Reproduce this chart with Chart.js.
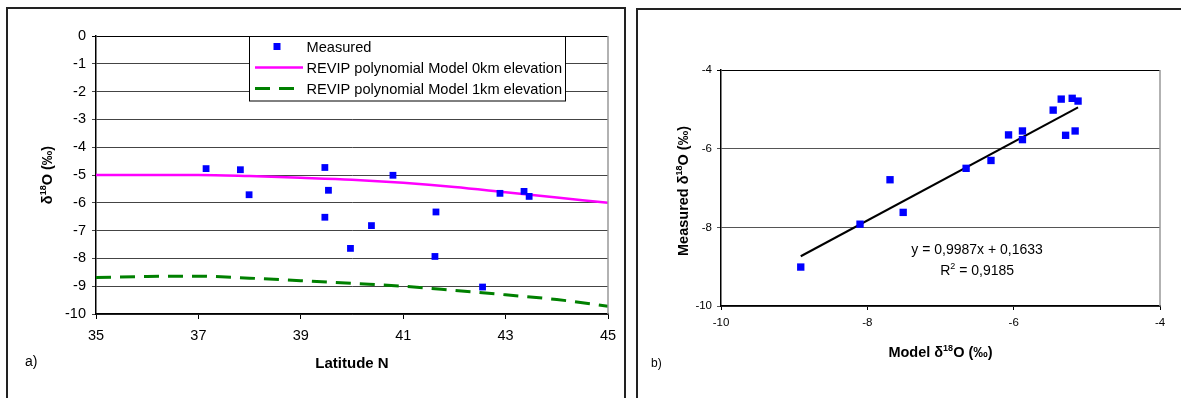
<!DOCTYPE html>
<html>
<head>
<meta charset="utf-8">
<script src="https://cdn.jsdelivr.net/npm/chart.js@4.4.1/dist/chart.umd.min.js"></script>
<style>
html, body { margin: 0; padding: 0; background: #fff; }
#wrap { position: relative; width: 1181px; height: 398px; overflow: hidden; }
canvas { position: absolute; top: 0; }
#left { left: 0; }
#right { left: 630px; }
</style>
</head>
<body>
<div id="wrap">
  <canvas id="left" width="630" height="398"></canvas>
  <canvas id="right" width="551" height="398"></canvas>
</div>
<script>
// panel a) - measured values against latitude
const latitude = [37.15, 37.82, 37.99, 39.47, 39.54, 40.80, 42.89, 43.36, 43.46, 39.47, 40.38, 39.97, 41.64, 41.62, 42.55];
const measuredA = [-4.77, -4.81, -5.71, -4.73, -5.55, -5.01, -5.66, -5.59, -5.77, -6.52, -6.82, -7.64, -6.33, -7.93, -9.03];

// REVIP polynomial model curves
const modelLat = [35, 36, 37, 38, 39, 40, 41, 42, 43, 44, 45];
const model0km = [-5.00, -5.00, -5.00, -5.04, -5.10, -5.17, -5.28, -5.43, -5.62, -5.81, -6.00];
const model1km = [-8.69, -8.65, -8.64, -8.71, -8.80, -8.90, -9.00, -9.15, -9.31, -9.48, -9.72];

const latTicks = [35, 37, 39, 41, 43, 45];
const deltaTicksA = [0, -1, -2, -3, -4, -5, -6, -7, -8, -9, -10];

// panel b) - measured against model
const modelB = [-5.35, -5.20, -5.12, -5.46, -6.07, -5.88, -5.88, -5.29, -5.16, -6.31, -6.65, -7.69, -8.10, -7.51, -8.91];
const measuredB = [-4.74, -4.72, -4.79, -5.02, -5.65, -5.55, -5.77, -5.66, -5.55, -6.30, -6.50, -6.79, -7.92, -7.62, -9.01];
const fitSlope = 0.9987;
const fitIntercept = 0.1633;
const fitR2 = 0.9185;

const ticksB = [-10, -8, -6, -4];

const FONT = '"Liberation Sans", Arial, sans-serif';
Chart.defaults.font.family = FONT;
Chart.defaults.color = '#000';

function fixedTicks(list) {
  return s => { s.ticks = list.map(v => ({ value: v })); };
}

function comma(v) {
  return v.toFixed(4).replace('.', ',');
}

// "prefix δ18O (‰)" with a raised 18
function deltaTitle(ctx, prefix, cx, cy, size, rotate) {
  const big = 'bold ' + size + 'px ' + FONT;
  const small = 'bold ' + (size * 0.62).toFixed(1) + 'px ' + FONT;
  const parts = [[prefix + 'δ', big, 0], ['18', small, -size * 0.42], ['O (‰)', big, 0]];
  let w = 0;
  parts.forEach(p => { ctx.font = p[1]; p.push(ctx.measureText(p[0]).width); w += p[3]; });
  ctx.save();
  ctx.translate(cx, cy);
  if (rotate) ctx.rotate(-Math.PI / 2);
  ctx.fillStyle = '#000';
  ctx.textBaseline = 'alphabetic';
  ctx.textAlign = 'left';
  let x = -w / 2;
  parts.forEach(p => {
    ctx.font = p[1];
    ctx.fillText(p[0], x, size * 0.36 + p[2]);
    x += p[3];
  });
  ctx.restore();
}

const deco = {
  id: 'deco',
  afterDraw(chart, args, opts) {
    const ctx = chart.ctx;
    const a = chart.chartArea;
    ctx.save();
    // frame of the panel
    ctx.strokeStyle = '#222';
    ctx.lineWidth = 2;
    ctx.strokeRect(opts.frame[0], opts.frame[1], opts.frame[2], opts.frame[3]);
    // right side of plot area
    ctx.strokeStyle = '#999';
    ctx.lineWidth = 1.5;
    ctx.beginPath();
    ctx.moveTo(a.right, a.top);
    ctx.lineTo(a.right, a.bottom);
    ctx.stroke();
    // panel letter
    ctx.fillStyle = '#000';
    ctx.font = opts.tagSize + 'px ' + FONT;
    ctx.textAlign = 'left';
    ctx.fillText(opts.tag, opts.tagPos[0], opts.tagPos[1]);
    ctx.restore();

    if (opts.xTitle) {
      ctx.save();
      ctx.font = 'bold 15px ' + FONT;
      ctx.textAlign = 'center';
      ctx.fillStyle = '#000';
      ctx.fillText(opts.xTitle, (a.left + a.right) / 2, 368);
      ctx.restore();
    } else {
      deltaTitle(ctx, 'Model ', (a.left + a.right) / 2, 352, 14.5, false);
    }
    deltaTitle(ctx, opts.yPrefix, opts.yTitleX, (a.top + a.bottom) / 2 + opts.yShift, opts.yTitleSize, true);

    if (opts.legend) {
      const ds = chart.data.datasets;
      const lx = 249.5, ly = 36.5, lw = 316, lh = 64.5;
      ctx.save();
      ctx.fillStyle = '#fff';
      ctx.fillRect(lx, ly, lw, lh);
      ctx.strokeStyle = '#000';
      ctx.lineWidth = 1;
      ctx.strokeRect(lx, ly, lw, lh);
      const rows = [46.5, 67.5, 88.5];
      ds.forEach((d, i) => {
        const y = rows[i];
        if (d.showLine) {
          ctx.strokeStyle = d.borderColor;
          ctx.lineWidth = d.borderWidth;
          ctx.setLineDash(d.borderDash || []);
          ctx.beginPath();
          ctx.moveTo(255, y);
          ctx.lineTo(d.borderDash ? 297 : 303, y);
          ctx.stroke();
          ctx.setLineDash([]);
        } else {
          ctx.fillStyle = d.backgroundColor;
          ctx.fillRect(273.5, y - 3.5, 7, 7);
        }
        ctx.fillStyle = '#000';
        ctx.font = '14.6px ' + FONT;
        ctx.textAlign = 'left';
        ctx.fillText(d.label, 306.5, y + 5.2);
      });
      ctx.restore();
    }

    if (opts.equation) {
      const sx = chart.scales.x, sy = chart.scales.y;
      const cx = sx.getPixelForValue(-6.5);
      ctx.save();
      ctx.fillStyle = '#000';
      ctx.font = '14px ' + FONT;
      ctx.textAlign = 'center';
      ctx.fillText('y = ' + comma(fitSlope) + 'x + ' + comma(fitIntercept), cx, sy.getPixelForValue(-8.55) + 5);
      // R² line with raised 2
      const r1 = 'R', r3 = ' = ' + comma(fitR2);
      const w1 = ctx.measureText(r1).width, w3 = ctx.measureText(r3).width;
      ctx.font = '9px ' + FONT;
      const w2 = ctx.measureText('2').width;
      let x = cx - (w1 + w2 + w3) / 2;
      const by = sy.getPixelForValue(-9.09) + 5;
      ctx.textAlign = 'left';
      ctx.font = '14px ' + FONT;
      ctx.fillText(r1, x, by); x += w1;
      ctx.font = '9px ' + FONT;
      ctx.fillText('2', x, by - 6); x += w2;
      ctx.font = '14px ' + FONT;
      ctx.fillText(r3, x, by);
      ctx.restore();
    }
  }
};

new Chart(document.getElementById('left'), {
  type: 'scatter',
  data: {
    datasets: [
      {
        label: 'Measured',
        data: latitude.map((x, i) => ({ x: x, y: measuredA[i] })),
        pointStyle: 'rect',
        pointRadius: 4.8,
        backgroundColor: '#0000ff',
        borderWidth: 0,
        order: 0
      },
      {
        label: 'REVIP polynomial Model 0km elevation',
        data: modelLat.map((x, i) => ({ x: x, y: model0km[i] })),
        showLine: true,
        borderColor: '#ff00ff',
        borderWidth: 2.5,
        pointRadius: 0,
        cubicInterpolationMode: 'monotone',
        order: 1
      },
      {
        label: 'REVIP polynomial Model 1km elevation',
        data: modelLat.map((x, i) => ({ x: x, y: model1km[i] })),
        showLine: true,
        borderColor: '#008000',
        borderWidth: 3,
        borderDash: [15, 9],
        pointRadius: 0,
        cubicInterpolationMode: 'monotone',
        order: 2
      }
    ]
  },
  options: {
    responsive: false,
    animation: false,
    devicePixelRatio: 1,
    layout: { autoPadding: false, padding: { left: 0, right: 22, top: 36, bottom: 54 } },
    plugins: {
      legend: { display: false },
      tooltip: { enabled: false },
      deco: {
        frame: [7, 8, 618, 500],
        tag: 'a)', tagSize: 14, tagPos: [25, 366],
        xTitle: 'Latitude N',
        yPrefix: '', yTitleX: 47, yTitleSize: 14.5, yShift: 0,
        legend: true
      }
    },
    scales: {
      x: {
        type: 'linear', min: 35, max: 45,
        afterBuildTicks: fixedTicks(latTicks),
        afterFit: s => { s.height = 30; },
        grid: { drawOnChartArea: false, tickLength: 5, color: '#000' },
        border: { color: '#000', width: 1.5 },
        ticks: { padding: 8, font: { size: 14.5 } }
      },
      y: {
        min: -10, max: 0,
        afterBuildTicks: fixedTicks(deltaTicksA),
        afterFit: s => { s.width = 96; },
        grid: { color: c => (c.tick && c.tick.value === 0 ? '#000' : '#444'), tickLength: 4 },
        border: { color: '#000', width: 1.5 },
        ticks: { padding: 6, font: { size: 14.5 } }
      }
    }
  },
  plugins: [deco]
});

const fitX = [Math.min(...modelB), Math.max(...modelB)];

new Chart(document.getElementById('right'), {
  type: 'scatter',
  data: {
    datasets: [
      {
        label: 'Measured vs model',
        data: modelB.map((x, i) => ({ x: x, y: measuredB[i] })),
        pointStyle: 'rect',
        pointRadius: 5.2,
        backgroundColor: '#0000ff',
        borderWidth: 0,
        order: 0
      },
      {
        label: 'Linear fit',
        data: fitX.map(x => ({ x: x, y: fitSlope * x + fitIntercept })),
        showLine: true,
        borderColor: '#000',
        borderWidth: 2,
        pointRadius: 0,
        order: 1
      }
    ]
  },
  options: {
    responsive: false,
    animation: false,
    devicePixelRatio: 1,
    layout: { autoPadding: false, padding: { left: 0, right: 21, top: 70, bottom: 62 } },
    plugins: {
      legend: { display: false },
      tooltip: { enabled: false },
      deco: {
        frame: [7, 9, 600, 500],
        tag: 'b)', tagSize: 12, tagPos: [21, 367],
        xTitle: null,
        yPrefix: 'Measured ', yTitleX: 53, yTitleSize: 14.5, yShift: 3,
        legend: false,
        equation: true
      }
    },
    scales: {
      x: {
        type: 'linear', min: -10, max: -4,
        afterBuildTicks: fixedTicks(ticksB),
        afterFit: s => { s.height = 30; },
        grid: { drawOnChartArea: false, tickLength: 4, color: '#000' },
        border: { color: '#000', width: 1.5 },
        ticks: { padding: 6, font: { size: 11.5 } }
      },
      y: {
        min: -10, max: -4,
        afterBuildTicks: fixedTicks(ticksB),
        afterFit: s => { s.width = 91; },
        grid: { color: c => (c.tick && c.tick.value === -4 ? '#000' : '#555'), tickLength: 4 },
        border: { color: '#000', width: 1.5 },
        ticks: { padding: 5, font: { size: 11.5 } }
      }
    }
  },
  plugins: [deco]
});
</script>
</body>
</html>
